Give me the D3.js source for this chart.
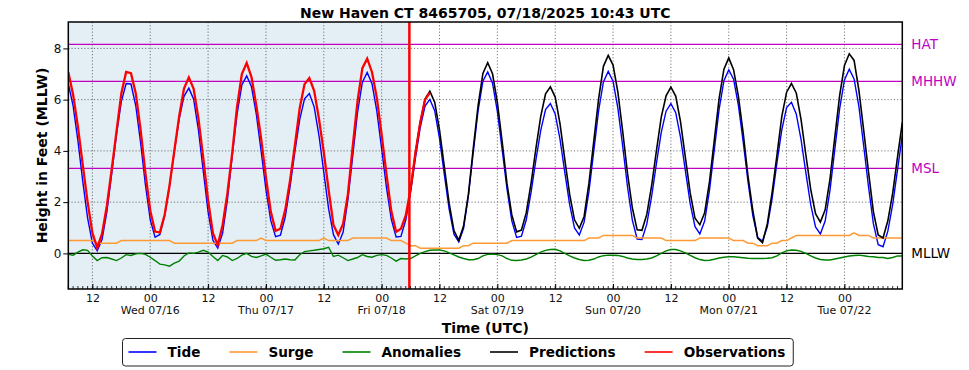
<!DOCTYPE html>
<html>
<head>
<meta charset="utf-8">
<script src="https://cdn.jsdelivr.net/npm/d3@7"></script>
<style>
  body { margin: 0; background: #fff; }
  svg { display: block; font-family: "DejaVu Sans", sans-serif; }
</style>
</head>
<body>
<svg width="969" height="370"></svg>
<script>
/****** DATA (hourly values, feet above MLLW) ******/

// Tide, surge and anomalies start at 07/15 07:00 UTC
var seriesStart = Date.UTC(2025, 6, 15, 7);

var tide = [
    6.62, 5.76, 4.39, 2.81, 1.39, 0.40, 0.10, 0.54, 1.62, 3.10,
    4.64, 5.92, 6.63, 6.61, 5.76, 4.32, 2.67, 1.31, 0.63, 0.74,
    1.47, 2.65, 3.99, 5.25, 6.13, 6.45, 6.02, 4.81, 3.20, 1.62,
    0.51, 0.21, 0.78, 2.08, 3.79, 5.42, 6.57, 6.93, 6.50, 5.43,
    3.99, 2.49, 1.28, 0.65, 0.71, 1.42, 2.60, 3.97, 5.22, 6.03,
    6.24, 5.72, 4.60, 3.16, 1.74, 0.73, 0.36, 0.82, 2.09, 3.80,
    5.50, 6.68, 7.06, 6.62, 5.55, 4.08, 2.57, 1.33, 0.64, 0.66,
    1.30, 2.40, 3.71, 4.91, 5.75, 6.01, 5.57, 4.49, 3.08, 1.73,
    0.75, 0.45, 0.98, 2.26, 3.94, 5.56, 6.72, 7.08, 6.64, 5.54,
    4.05, 2.52, 1.27, 0.62, 0.67, 1.31, 2.39, 3.65, 4.80, 5.61,
    5.85, 5.44, 4.45, 3.15, 1.90, 0.99, 0.72, 1.22, 2.41, 3.99,
    5.56, 6.69, 7.10, 6.72, 5.67, 4.18, 2.60, 1.30, 0.56, 0.54,
    1.14, 2.22, 3.51, 4.72, 5.55, 5.84, 5.49, 4.53, 3.23, 1.94,
    1.04, 0.76, 1.26, 2.46, 4.04, 5.62, 6.74, 7.16, 6.80, 5.78,
    4.35, 2.79, 1.46, 0.62, 0.48, 1.04, 2.15, 3.54, 4.82, 5.69,
    5.90, 5.44, 4.44, 3.14, 1.90, 1.03, 0.76, 1.26, 2.46, 4.06,
    5.64, 6.77, 7.19, 6.81, 5.73, 4.18, 2.58, 1.16, 0.34, 0.26,
    0.87, 1.90, 3.25, 4.60
];

var surge = [
    0.5, 0.5, 0.5, 0.5, 0.5, 0.5, 0.4, 0.4, 0.4, 0.4,
    0.4, 0.5, 0.5, 0.5, 0.5, 0.5, 0.5, 0.5, 0.5, 0.5,
    0.5, 0.5, 0.4, 0.4, 0.4, 0.4, 0.4, 0.4, 0.4, 0.4,
    0.4, 0.4, 0.4, 0.4, 0.4, 0.5, 0.5, 0.5, 0.5, 0.5,
    0.6, 0.5, 0.5, 0.5, 0.5, 0.5, 0.5, 0.5, 0.5, 0.5,
    0.5, 0.5, 0.5, 0.6, 0.5, 0.5, 0.5, 0.5, 0.5, 0.6,
    0.6, 0.6, 0.6, 0.6, 0.6, 0.6, 0.6, 0.5, 0.5, 0.5,
    0.4, 0.3, 0.3, 0.2, 0.2, 0.2, 0.2, 0.2, 0.2, 0.2,
    0.2, 0.2, 0.3, 0.3, 0.4, 0.4, 0.4, 0.4, 0.4, 0.4,
    0.4, 0.4, 0.5, 0.5, 0.5, 0.5, 0.5, 0.5, 0.5, 0.5,
    0.5, 0.5, 0.5, 0.5, 0.5, 0.5, 0.5, 0.5, 0.6, 0.6,
    0.6, 0.7, 0.7, 0.7, 0.7, 0.7, 0.7, 0.7, 0.6, 0.6,
    0.6, 0.6, 0.6, 0.6, 0.5, 0.5, 0.5, 0.5, 0.5, 0.5,
    0.5, 0.6, 0.6, 0.6, 0.6, 0.6, 0.6, 0.6, 0.5, 0.5,
    0.5, 0.4, 0.4, 0.3, 0.3, 0.3, 0.4, 0.4, 0.5, 0.5,
    0.6, 0.7, 0.7, 0.7, 0.7, 0.7, 0.7, 0.7, 0.7, 0.7,
    0.7, 0.7, 0.7, 0.8, 0.7, 0.7, 0.7, 0.6, 0.6, 0.6,
    0.6, 0.6, 0.6, 0.6
];

var anomalies = [
    -0.04, -0.07, 0.05, 0.14, 0.12, -0.10, -0.28, -0.17, -0.16, -0.22,
    -0.28, -0.18, -0.05, -0.08, -0.02, 0.00, -0.04, -0.15, -0.28, -0.42,
    -0.45, -0.50, -0.38, -0.30, -0.10, 0.02, 0.00, 0.05, 0.12, 0.05,
    -0.12, -0.28, -0.08, -0.14, -0.28, -0.20, -0.07, 0.00, -0.12, -0.16,
    -0.10, -0.03, -0.15, -0.27, -0.25, -0.22, -0.25, -0.26, -0.05, 0.07,
    0.10, 0.12, 0.15, 0.18, 0.24, -0.12, -0.07, -0.17, -0.28, -0.22,
    -0.16, -0.05, -0.12, -0.15, -0.08, -0.05, -0.08, -0.18, -0.30, -0.20,
    -0.22, -0.20, -0.10, 0.00, 0.07, 0.12, 0.13, 0.13, 0.10, 0.02,
    -0.06, -0.14, -0.20, -0.25, -0.25, -0.20, -0.10, -0.04, -0.03, -0.05,
    -0.10, -0.20, -0.27, -0.28, -0.26, -0.22, -0.15, -0.05, 0.05, 0.12,
    0.15, 0.16, 0.10, 0.00, -0.10, -0.18, -0.24, -0.28, -0.27, -0.22,
    -0.14, -0.09, -0.07, -0.07, -0.08, -0.12, -0.18, -0.22, -0.24, -0.24,
    -0.22, -0.18, -0.10, 0.00, 0.10, 0.15, 0.15, 0.10, 0.02, -0.08,
    -0.17, -0.24, -0.28, -0.27, -0.23, -0.18, -0.15, -0.13, -0.13, -0.15,
    -0.17, -0.19, -0.20, -0.20, -0.20, -0.19, -0.17, -0.10, 0.02, 0.10,
    0.13, 0.12, 0.08, 0.00, -0.10, -0.18, -0.24, -0.26, -0.26, -0.22,
    -0.18, -0.14, -0.10, -0.08, -0.07, -0.09, -0.12, -0.13, -0.16, -0.16,
    -0.20, -0.16, -0.10, -0.10
];

// Observations, 07/15 07:00 to 07/18 10:00 UTC
var observations = [
    7.08, 6.19, 4.94, 3.45, 2.01, 0.80, 0.22, 0.77, 1.86, 3.28,
    4.76, 6.24, 7.08, 7.03, 6.24, 4.82, 3.13, 1.66, 0.85, 0.82,
    1.52, 2.65, 4.01, 5.35, 6.43, 6.87, 6.42, 5.26, 3.72, 2.07,
    0.79, 0.33, 1.10, 2.34, 3.91, 5.72, 7.00, 7.43, 6.88, 5.77,
    4.49, 2.96, 1.63, 0.88, 0.96, 1.70, 2.85, 4.21, 5.67, 6.60,
    6.84, 6.34, 5.25, 3.94, 2.48, 1.11, 0.72, 1.15, 2.31, 4.18,
    5.94, 7.23, 7.60, 7.07, 6.07, 4.63, 3.09, 1.65, 0.84, 0.96,
    1.48, 2.50, 3.91, 5.11, 6.00, 6.27
];

// Predictions, from 07/18 06:00 UTC
var predStart = Date.UTC(2025, 6, 18, 6);
var predictions = [
    2.50, 3.91, 5.11, 6.02, 6.33, 5.90, 4.82, 3.38, 1.95, 0.89,
    0.51, 1.08, 2.31, 4.09, 5.76, 7.02, 7.44, 7.01, 5.89, 4.35,
    2.72, 1.50, 0.84, 0.91, 1.59, 2.74, 4.10, 5.35, 6.23, 6.50,
    6.10, 5.05, 3.65, 2.30, 1.31, 0.98, 1.44, 2.74, 4.37, 6.02,
    7.30, 7.73, 7.35, 6.29, 4.76, 3.12, 1.78, 0.92, 0.90, 1.52,
    2.64, 4.01, 5.32, 6.15, 6.49, 6.14, 5.13, 3.75, 2.36, 1.37,
    1.12, 1.58, 2.79, 4.41, 6.04, 7.19, 7.63, 7.17, 6.13, 4.68,
    3.00, 1.66, 0.60, 0.42, 1.15, 2.38, 3.84, 5.34, 6.29, 6.63,
    6.26, 5.22, 3.84, 2.50, 1.55, 1.22, 1.70, 2.90, 4.54, 6.16,
    7.33, 7.79, 7.53, 6.36, 4.79, 3.16, 1.63, 0.72, 0.60, 1.27,
    2.34, 3.75, 5.10
];

// Tidal datums shown at the right edge
var datumNames = ["HAT", "MHHW", "MSL", "MLLW"];
var datumValues = [8.16, 6.71, 3.32, 0];

var yTickValues = [0, 2, 4, 6, 8];
var dayLabels = ["Wed 07/16", "Thu 07/17", "Fri 07/18", "Sat 07/19",
                 "Sun 07/20", "Mon 07/21", "Tue 07/22"];
var seriesNames = ["Tide", "Surge", "Anomalies", "Predictions", "Observations"];

var timeDomain = [Date.UTC(2025, 6, 15, 7), Date.UTC(2025, 6, 22, 12)];
var forecastTime = Date.UTC(2025, 6, 18, 5, 45);

function init() {
    /****** LOCAL VARIABLES ******/
    var svg = d3.select("svg"),
        margin = {top: 22, right: 66.7, bottom: 81, left: 68.3},
        drawWidth = +svg.attr("width") - margin.left - margin.right,
        drawHeight = +svg.attr("height") - margin.top - margin.bottom;

    var colors = {Tide: "#0000ff", Surge: "#ff9933", Anomalies: "#008000",
                  Predictions: "#000000", Observations: "#ff0000"};
    var widths = {Tide: 1.4, Surge: 1.5, Anomalies: 1.4, Predictions: 1.6, Observations: 2.3};
    var magenta = "#bf00bf";

    var x = d3.scaleUtc().domain(timeDomain.map(function(t) { return new Date(t); }))
        .range([0, drawWidth]);
    var y = d3.scaleLinear().domain([-1.39, 9.03]).range([drawHeight, 0]);

    var chart = svg.append("g")
        .attr("transform", "translate(" + margin.left + "," + margin.top + ")");

    svg.append("defs").append("clipPath")
        .attr("id", "clip")
        .append("rect")
        .attr("width", drawWidth)
        .attr("height", drawHeight);

    // Observed period shading
    chart.append("rect")
        .attr("x", 0).attr("y", 0)
        .attr("width", x(new Date(forecastTime)))
        .attr("height", drawHeight)
        .attr("fill", "#e3eef5");

    // Grid (major ticks every 12 h, inside the domain only)
    var majorTicks = d3.utcHour.every(12).range(x.domain()[0], x.domain()[1]);
    var minorTicks = d3.utcHour.every(1).range(x.domain()[0], x.domain()[1]);

    chart.append("g").selectAll("line")
        .data(majorTicks)
        .enter().append("line")
        .attr("x1", function(d) { return x(d); })
        .attr("x2", function(d) { return x(d); })
        .attr("y1", 0).attr("y2", drawHeight)
        .attr("stroke", "#555").attr("stroke-width", 0.8)
        .attr("stroke-dasharray", "1.2,2");

    chart.append("g").selectAll("line")
        .data(yTickValues)
        .enter().append("line")
        .attr("x1", 0).attr("x2", drawWidth)
        .attr("y1", function(d) { return y(d); })
        .attr("y2", function(d) { return y(d); })
        .attr("stroke", "#555").attr("stroke-width", 0.8)
        .attr("stroke-dasharray", "1.2,2");

    // Datum lines
    chart.append("g").selectAll("line")
        .data(datumValues)
        .enter().append("line")
        .attr("x1", 0).attr("x2", drawWidth)
        .attr("y1", function(d) { return y(d); })
        .attr("y2", function(d) { return y(d); })
        .attr("stroke", function(d, i) { return i === 3 ? "#000" : magenta; })
        .attr("stroke-width", 1.3);

    // Series
    function toPoints(start, values) {
        return values.map(function(v, i) {
            return {t: new Date(start + i * 3600e3), v: v};
        });
    }
    var line = d3.line()
        .x(function(d) { return x(d.t); })
        .y(function(d) { return y(d.v); });

    var series = [
        {name: "Tide", pts: toPoints(seriesStart, tide)},
        {name: "Surge", pts: toPoints(seriesStart, surge)},
        {name: "Anomalies", pts: toPoints(seriesStart, anomalies)},
        {name: "Predictions", pts: toPoints(predStart, predictions)},
        {name: "Observations", pts: toPoints(seriesStart, observations)}
    ];

    chart.append("g")
        .attr("clip-path", "url(#clip)")
        .selectAll("path")
        .data(series)
        .enter().append("path")
        .attr("d", function(d) { return line(d.pts); })
        .attr("fill", "none")
        .attr("stroke", function(d) { return colors[d.name]; })
        .attr("stroke-width", function(d) { return widths[d.name]; })
        .attr("stroke-linejoin", "miter");

    // Forecast start line
    chart.append("line")
        .attr("x1", x(new Date(forecastTime))).attr("x2", x(new Date(forecastTime)))
        .attr("y1", 0).attr("y2", drawHeight)
        .attr("stroke", "#ff0000").attr("stroke-width", 2.5);

    // Minor x ticks (hourly, inward)
    chart.append("g").selectAll("line")
        .data(minorTicks)
        .enter().append("line")
        .attr("x1", function(d) { return x(d); })
        .attr("x2", function(d) { return x(d); })
        .attr("y1", drawHeight).attr("y2", drawHeight - 3)
        .attr("stroke", "#000").attr("stroke-width", 0.8);

    // Axes
    var xAxis = d3.axisBottom(x)
        .tickValues(majorTicks)
        .tickFormat(d3.utcFormat("%H"))
        .tickSize(-5)
        .tickPadding(5);
    var gx = chart.append("g")
        .attr("transform", "translate(0," + drawHeight + ")")
        .call(xAxis);
    gx.select(".domain").remove();
    gx.selectAll("text").attr("font-size", 11).attr("font-family", "DejaVu Sans").attr("fill", "#111");

    var midnights = d3.utcDay.every(1).range(new Date(Date.UTC(2025, 6, 16)), x.domain()[1]);
    chart.append("g").selectAll("text")
        .data(dayLabels)
        .enter().append("text")
        .attr("x", function(d, i) { return x(midnights[i]); })
        .attr("y", drawHeight + 25)
        .attr("text-anchor", "middle")
        .attr("font-size", 11)
        .attr("fill", "#111")
        .text(function(d) { return d; });

    var yAxis = d3.axisLeft(y)
        .tickValues(yTickValues)
        .tickSize(5)
        .tickPadding(2);
    var gy = chart.append("g").call(yAxis);
    gy.select(".domain").remove();
    gy.selectAll("text").attr("font-size", 12).attr("font-family", "DejaVu Sans").attr("fill", "#111");

    // Frame
    chart.append("rect")
        .attr("width", drawWidth).attr("height", drawHeight)
        .attr("fill", "none").attr("stroke", "#000").attr("stroke-width", 1.5);

    // Datum labels
    chart.append("g").selectAll("text")
        .data(datumNames)
        .enter().append("text")
        .attr("x", drawWidth + 9)
        .attr("y", function(d, i) { return y(datumValues[i]); })
        .attr("dy", "0.36em")
        .attr("font-size", 13.5)
        .attr("fill", function(d, i) { return i === 3 ? "#000" : magenta; })
        .text(function(d) { return d; });

    // Titles
    svg.append("text")
        .attr("x", margin.left + drawWidth / 2).attr("y", 18)
        .attr("text-anchor", "middle")
        .attr("font-size", 14).attr("font-weight", "bold")
        .text("New Haven CT 8465705, 07/18/2025 10:43 UTC");

    svg.append("text")
        .attr("x", margin.left + drawWidth / 2).attr("y", 333)
        .attr("text-anchor", "middle")
        .attr("font-size", 14).attr("font-weight", "bold")
        .text("Time (UTC)");

    svg.append("text")
        .attr("text-anchor", "middle")
        .attr("transform", "translate(47," + (margin.top + drawHeight / 2) + ")rotate(-90)")
        .attr("font-size", 14).attr("font-weight", "bold")
        .text("Height in Feet (MLLW)");

    // Legend
    var legend = svg.append("g");
    var box = legend.append("rect")
        .attr("x", 122.5).attr("y", 338.5)
        .attr("height", 27.5).attr("rx", 3)
        .attr("fill", "#fff").attr("stroke", "#222").attr("stroke-width", 1);
    var cx = 128.5;
    seriesNames.forEach(function(name) {
        legend.append("line")
            .attr("x1", cx).attr("x2", cx + 28)
            .attr("y1", 352).attr("y2", 352)
            .attr("stroke", colors[name]).attr("stroke-width", 1.6);
        var t = legend.append("text")
            .attr("x", cx + 39).attr("y", 357)
            .attr("font-size", 13.6).attr("font-weight", "bold")
            .text(name);
        cx += 39 + t.node().getComputedTextLength() + 29;
    });
    box.attr("width", cx - 29 + 8 - 122.5);
}

init();
</script>
</body>
</html>
